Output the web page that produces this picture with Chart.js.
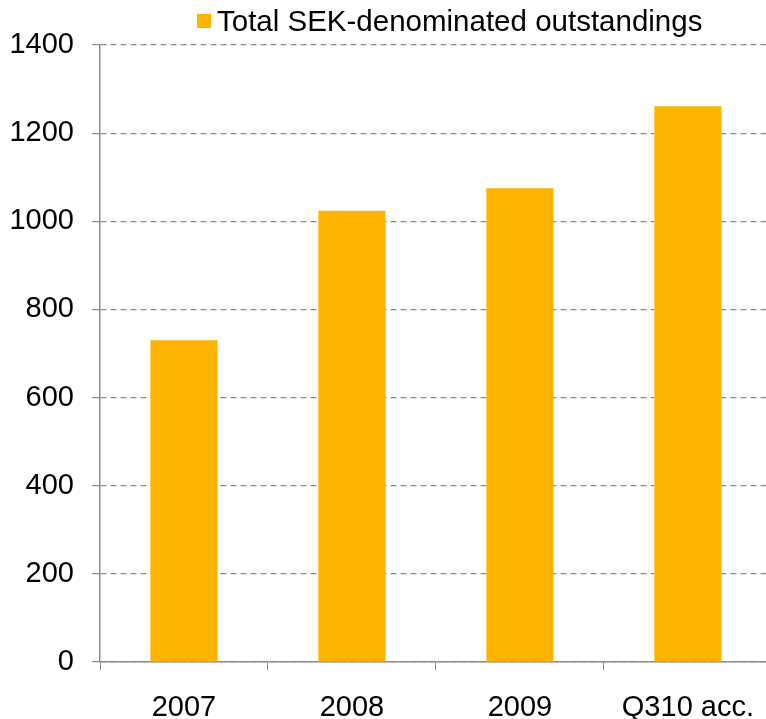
<!DOCTYPE html>
<html>
<head>
<meta charset="utf-8">
<script src="https://cdn.jsdelivr.net/npm/chart.js@4/dist/chart.umd.min.js"></script>
<style>
    html, body {margin: 0; padding: 0; background: #fff; overflow: hidden;}
    #wrap {position: relative; width: 775px; height: 719px;}
    #legend {
        position: absolute; left: 197px; top: 4px;
        font-family: "Liberation Sans", Arial, sans-serif; font-size: 29.5px; color: #000;
        display: flex; align-items: center; white-space: nowrap;
    }
    #legend .box {width: 14px; height: 14px; background: #FFB400; margin-right: 6px;}
</style>
</head>
<body>
<div id="wrap">
    <div id="legend"><span class="box"></span><span id="legendText"></span></div>
    <canvas id="chart" width="775" height="719"></canvas>
</div>
<script>
const categories = ['2007', '2008', '2009', 'Q310 acc.'];
const seriesName = 'Total SEK-denominated outstandings';
const outstandings = [730, 1024, 1075, 1261];
const yTicks = [0, 200, 400, 600, 800, 1000, 1200, 1400];

const barColor = '#FFB400';
const axisColor = '#8c8c8c';
const fontFamily = '"Liberation Sans", Arial, sans-serif';

document.getElementById('legendText').textContent = seriesName;

const ctx = document.getElementById('chart').getContext('2d');
new Chart(ctx, {
    type: 'bar',
    data: {
        labels: categories,
        datasets: [
            {
                label: seriesName,
                data: outstandings,
                backgroundColor: barColor,
                barPercentage: 0.4,
                categoryPercentage: 1,
            }
        ]
    },
    options: {
        responsive: false,
        animation: false,
        layout: {padding: {top: 45, right: 0, left: 0, bottom: 0}},
        plugins: {legend: {display: false}, tooltip: {enabled: false}},
        scales: {
            x: {
                offset: true,
                grid: {offset: true, drawOnChartArea: false, drawTicks: true, tickLength: 8, color: axisColor},
                border: {color: axisColor, width: 1.5},
                ticks: {color: '#000', font: {family: fontFamily, size: 29}, padding: 21, maxRotation: 0},
                afterFit: scale => { scale.height = 57; },
            },
            y: {
                min: 0,
                max: 1400,
                afterBuildTicks: scale => { scale.ticks = yTicks.map(v => ({value: v})); },
                grid: {color: axisColor, lineWidth: 1.2, tickLength: 8, tickColor: axisColor, tickBorderDash: []},
                border: {color: axisColor, width: 1.5, dash: [6, 4]},
                ticks: {
                    color: '#000', font: {family: fontFamily, size: 29}, padding: 18,
                    callback: value => String(value),
                },
                afterFit: scale => { scale.width = 100; },
            }
        }
    }
});
</script>
</body>
</html>
